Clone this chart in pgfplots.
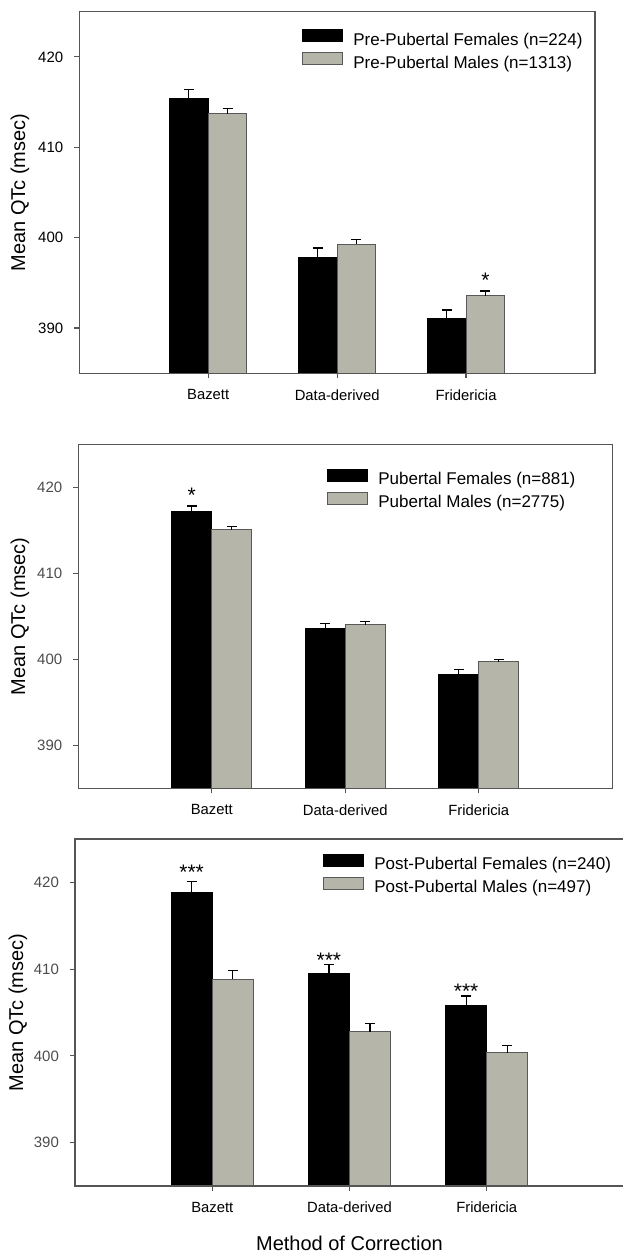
\documentclass[border=0pt]{standalone}
\usepackage{fontspec}
\setmainfont{Liberation Sans}
\usepackage{pgfplots}
\pgfplotsset{compat=1.18}
\definecolor{barg}{RGB}{181,181,170}
\definecolor{spine}{RGB}{85,85,85}

\tikzset{sigstar/.style={font=\fontsize{10.5}{10}\selectfont, anchor=base, yshift=-6.1pt}}

\pgfplotsset{
  sqlegend/.style={legend image code/.code={\draw[##1] (0pt,0pt) rectangle (20pt,6pt);}},
  fem/.style={sqlegend, fill=black, draw=black, line width=0.5pt, bar shift=-0.15},
  mal/.style={sqlegend, fill=barg, draw=black!65, line width=0.5pt, bar shift=0.15},
  qtc/.style={
    scale only axis, axis on top,
    ybar, bar width=0.3,
    xmin=-1, xmax=3, ymin=385, ymax=425,
    xtick={0,1,2}, xticklabels={Bazett,Data-derived,Fridericia},
    ytick={390,400,410,420},
    tick align=outside, xtick pos=bottom, ytick pos=left,
    major tick length=2.5pt,
    axis line style={draw=spine, line width=0.75pt},
    every tick/.style={draw=spine, line width=0.6pt},
    /pgf/number format/assume math mode=true,
    yticklabel style={font=\fontsize{7.5}{8}\selectfont, xshift=-2pt},
    xticklabel style={font=\fontsize{7.4}{8}\selectfont, yshift=-2pt},
    ylabel={Mean QTc (msec)},
    ylabel style={font=\fontsize{8.75}{9}\selectfont},
    legend style={draw=none, fill=none, font=\fontsize{8.5}{10}\selectfont, anchor=north west, inner sep=0pt,
      nodes={inner sep=0pt, text height=7pt, text depth=3.5pt}, row sep=0pt,
      /tikz/every odd column/.append style={column sep=5pt}},
    legend cell align=left,
    error bars/y dir=plus, error bars/y explicit,
    error bars/error mark=|,
    error bars/error bar style={black, line width=0.6pt},
    error bars/error mark options={black, line width=0.6pt, mark size=2.5pt},
  },
}

\begin{document}
\begin{tikzpicture}
\useasboundingbox (0,0) rectangle (311pt,626.5pt);

% Panel 1: pre-pubertal
\begin{axis}[qtc, at={(39.65pt,439.85pt)}, anchor=south west, width=257.85pt, height=180.8pt,
  every axis y label/.style={at={([xshift=-29.7pt]axis description cs:0,0.5)}, rotate=90, anchor=center},
  legend style={at={(0.4318,0.953)}}]
\addplot[fem] coordinates {(0,415.35) +- (0,1.05) (1,397.8) +- (0,1.05) (2,391.1) +- (0,0.9)};
\addplot[mal] coordinates {(0,413.7) +- (0,0.6) (1,399.3) +- (0,0.5) (2,393.55) +- (0,0.55)};
\legend{Pre-Pubertal Females (n=224), Pre-Pubertal Males (n=1313)}
\node[sigstar] at (axis cs:2.15,395.8) {*};
\end{axis}

% Panel 2: pubertal
\begin{axis}[qtc, at={(39.15pt,232.25pt)}, anchor=south west, width=267pt, height=172.1pt,
  yticklabel style={color=black!70},
  every axis y label/.style={at={([xshift=-29.2pt]axis description cs:0,0.5)}, rotate=90, anchor=center},
  legend style={at={(0.4657,0.930)}}]
\addplot[fem] coordinates {(0,417.14) +- (0,0.7) (1,403.65) +- (0,0.55) (2,398.24) +- (0,0.58)};
\addplot[mal] coordinates {(0,415.06) +- (0,0.4) (1,404.04) +- (0,0.4) (2,399.73) +- (0,0.3)};
\legend{Pubertal Females (n=881), Pubertal Males (n=2775)}
\node[sigstar] at (axis cs:-0.15,419.7) {*};
\end{axis}

% Panel 3: post-pubertal
\begin{axis}[qtc, at={(37.5pt,33.5pt)}, anchor=south west, width=274.5pt, height=173.5pt,
  yticklabel style={color=black!70},
  every axis y label/.style={at={([xshift=-28.5pt]axis description cs:0,0.5)}, rotate=90, anchor=center},
  xlabel={Method of Correction},
  xlabel style={font=\fontsize{10}{12}\selectfont},
  every axis x label/.style={at={(axis description cs:0.5,0)}, anchor=center, yshift=-28.7pt},
  legend style={at={(0.4517,0.959)}}]
\addplot[fem] coordinates {(0,418.85) +- (0,1.25) (1,409.46) +- (0,1.1) (2,405.86) +- (0,1.05)};
\addplot[mal] coordinates {(0,408.85) +- (0,1.0) (1,402.8) +- (0,0.9) (2,400.38) +- (0,0.85)};
\legend{Post-Pubertal Females (n=240), Post-Pubertal Males (n=497)}
\node[sigstar] at (axis cs:-0.15,421.7) {***};
\node[sigstar] at (axis cs:0.85,411.65) {***};
\node[sigstar] at (axis cs:1.85,408.0) {***};
\end{axis}
\end{tikzpicture}
\end{document}
